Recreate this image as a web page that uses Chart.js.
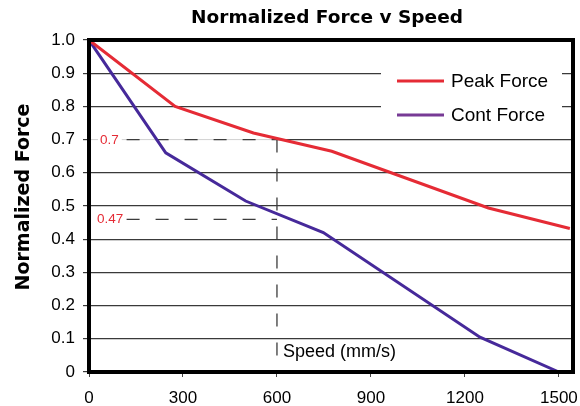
<!DOCTYPE html>
<html>
<head>
<meta charset="utf-8">
<script src="https://cdn.jsdelivr.net/npm/chart.js@4"></script>
<style>
  html, body { margin: 0; padding: 0; background: #fff; }
  #wrap { width: 580px; height: 406px; }
</style>
</head>
<body>
<div id="wrap"><canvas id="chart"></canvas></div>
<script>
// values
const speedPeak = [0, 275, 525, 775, 1275, 1535];
const peakForce = [1.0, 0.8, 0.72, 0.665, 0.494, 0.432];
const speedCont = [0, 245, 500, 748, 1248, 1500];
const contForce = [1.0, 0.66, 0.515, 0.42, 0.105, 0];
const xTicks = [0, 300, 600, 900, 1200, 1500];
const yTicks = [0, 0.1, 0.2, 0.3, 0.4, 0.5, 0.6, 0.7, 0.8, 0.9, 1.0];
const guideSpeed = 600;
const guideForces = [0.7, 0.46];
const guideLabels = ['0.7', '0.47'];
const guideStart = 120;
const guideBottom = 0.045;

const RED = '#e52b35';
const PURPLE = '#46299a';
const SANS = '"Liberation Sans", Arial, sans-serif';

const pts = (xs, ys) => xs.map((x, i) => ({ x: x, y: ys[i] }));

const decor = {
  id: 'decor',
  beforeDatasetsDraw(chart) {
    const { ctx, chartArea: a, scales: { x, y } } = chart;
    // the 0.7 gridline is pale where the guide runs
    const yy = y.getPixelForValue(guideForces[0]);
    ctx.save();
    ctx.fillStyle = '#fff';
    ctx.fillRect(a.left, yy - 1.5, x.getPixelForValue(guideSpeed) - a.left, 3);
    ctx.strokeStyle = '#d0d0d0';
    ctx.lineWidth = 1;
    ctx.beginPath();
    ctx.moveTo(a.left, yy);
    ctx.lineTo(x.getPixelForValue(guideSpeed), yy);
    ctx.stroke();
    ctx.restore();
  },
  afterDatasetsDraw(chart) {
    const { ctx, chartArea: a, scales: { x, y } } = chart;
    ctx.save();

    // guide labels
    ctx.font = '13.5px ' + SANS;
    ctx.textBaseline = 'middle';
    ctx.textAlign = 'left';
    guideLabels.forEach((t, i) => {
      const yy = y.getPixelForValue(guideForces[i]);
      const w = ctx.measureText(t).width;
      if (i === 0) {
        ctx.fillStyle = '#fff';
        ctx.fillRect(98, yy - 6, w + 5, 12);
      }
      ctx.fillStyle = RED;
      ctx.fillText(t, i === 0 ? 100 : 97, yy + 0.5);
    });

    // axis title sitting inside the plot
    ctx.fillStyle = '#000';
    ctx.font = '18px ' + SANS;
    ctx.fillText('Speed (mm/s)', x.getPixelForValue(guideSpeed) + 6, 352);

    // legend
    ctx.fillStyle = '#fff';
    ctx.fillRect(381, 60, 181, 68);
    ctx.font = '19px ' + SANS;
    [['Peak Force', RED, 81], ['Cont Force', '#773a95', 115]].forEach(([t, c, ly]) => {
      ctx.strokeStyle = c;
      ctx.lineWidth = 3;
      ctx.beginPath();
      ctx.moveTo(397, ly);
      ctx.lineTo(444, ly);
      ctx.stroke();
      ctx.fillStyle = '#000';
      ctx.fillText(t, 451, ly + 1);
    });

    // heavy frame
    ctx.strokeStyle = '#000';
    ctx.lineWidth = 4;
    ctx.strokeRect(a.left, a.top, a.right - a.left, a.bottom - a.top);

    // titles
    ctx.fillStyle = '#000';
    ctx.font = 'bold 18.5px "DejaVu Sans", Verdana, sans-serif';
    ctx.textAlign = 'center';
    ctx.fillText('Normalized Force v Speed', 327, 18);
    ctx.font = 'bold 19px "DejaVu Sans", Verdana, sans-serif';
    ctx.translate(24, 197);
    ctx.rotate(-Math.PI / 2);
    ctx.fillText('Normalized Force', 0, 0);
    ctx.restore();
  }
};

new Chart(document.getElementById('chart'), {
  type: 'line',
  data: {
    datasets: [
      {
        label: 'Peak Force',
        data: pts(speedPeak, peakForce),
        borderColor: RED,
        borderWidth: 3,
        pointRadius: 0,
        tension: 0
      },
      {
        label: 'Cont Force',
        data: pts(speedCont, contForce),
        borderColor: PURPLE,
        borderWidth: 3,
        pointRadius: 0,
        tension: 0
      },
      {
        label: 'guide 0.7',
        data: [{ x: guideStart, y: guideForces[0] }, { x: guideSpeed, y: guideForces[0] }],
        borderColor: '#3c3c3c',
        borderWidth: 1.3,
        borderDash: [13, 16],
        pointRadius: 0
      },
      {
        label: 'guide 0.47',
        data: [{ x: guideStart, y: guideForces[1] }, { x: guideSpeed, y: guideForces[1] }],
        borderColor: '#3c3c3c',
        borderWidth: 1.3,
        borderDash: [13, 16],
        pointRadius: 0
      },
      {
        label: 'guide speed',
        data: [{ x: guideSpeed, y: guideForces[0] }, { x: guideSpeed, y: guideBottom }],
        borderColor: '#3c3c3c',
        borderWidth: 1.3,
        borderDash: [13, 16],
        pointRadius: 0
      }
    ]
  },
  options: {
    responsive: true,
    maintainAspectRatio: false,
    animation: false,
    layout: { padding: { left: 0, top: 40, right: 7, bottom: 0 } },
    plugins: {
      legend: { display: false },
      title: { display: false },
      tooltip: { enabled: false }
    },
    scales: {
      x: {
        type: 'linear',
        min: 0,
        max: 1545,
        afterBuildTicks: s => { s.ticks = xTicks.map(v => ({ value: v })); },
        afterFit: s => { s.height = 34; s.paddingLeft = 0; s.paddingRight = 0; },
        border: { display: false },
        grid: { drawOnChartArea: false, drawTicks: true, tickLength: 5, color: '#444' },
        ticks: {
          color: '#000',
          padding: 11,
          maxRotation: 0,
          font: { size: 17, family: SANS },
          callback: v => String(v)
        }
      },
      y: {
        min: 0,
        max: 1,
        afterBuildTicks: s => { s.ticks = yTicks.map(v => ({ value: v })); },
        afterFit: s => { s.width = 89; s.paddingTop = 0; s.paddingBottom = 0; },
        border: { display: false },
        grid: { color: '#3a3a3a', lineWidth: 1.2, tickLength: 6 },
        ticks: {
          color: '#000',
          padding: 8,
          font: { size: 17, family: SANS },
          callback: v => (v === 0 ? '0' : v.toFixed(1))
        }
      }
    }
  },
  plugins: [decor]
});
</script>
</body>
</html>
